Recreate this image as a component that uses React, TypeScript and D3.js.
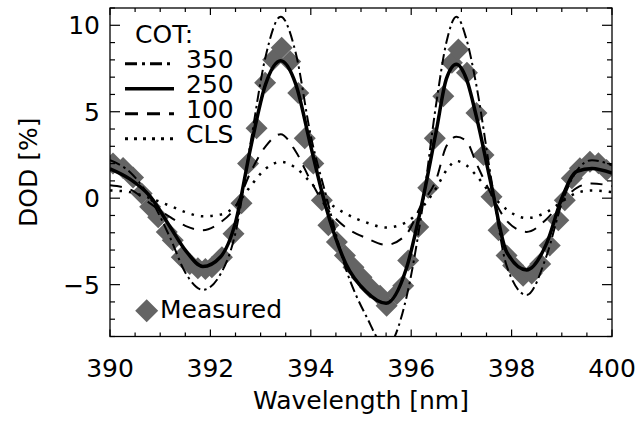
import React from "react";
import * as d3 from "d3";

// model wavelengths (nm) shared by the COT curves
const modelWl = [
  390.0, 390.4, 390.8, 391.2, 391.5, 391.85, 392.2, 392.5, 392.8, 393.1, 393.4,
  393.7, 394.0, 394.3, 394.7, 395.1, 395.5, 395.9, 396.2, 396.5, 396.7, 396.9,
  397.1, 397.3, 397.6, 397.9, 398.3, 398.7, 399.0, 399.3, 399.6, 400.0,
];
const cot350 = [
  2.2, 1.5, 0.0, -2.3, -4.3, -5.3, -4.4, -2.0, 3.2, 8.2, 10.5, 8.4, 3.6, 0.2,
  -4.1, -6.8, -8.6, -5.8, -1.0, 5.5, 9.0, 10.5, 9.2, 6.5, 1.0, -3.9, -5.6, -3.3,
  -0.3, 1.6, 2.2, 1.9,
];
const cot250 = [
  1.7, 1.1, 0.1, -1.67, -3.0, -3.95, -3.4, -1.4, 2.9, 6.6, 7.95, 6.6, 3.0, -0.5,
  -3.8, -5.4, -6.08, -4.1, -0.5, 3.9, 6.9, 7.75, 6.9, 4.7, 0.7, -3.1, -4.15,
  -2.6, 0.0, 1.55, 1.72, 1.45,
];
const cot100 = [
  0.75, 0.5, -0.3, -1.1, -1.6, -1.85, -1.4, -0.5, 1.5, 3.0, 3.7, 2.7, 1.0, -0.5,
  -1.7, -2.3, -2.7, -2.1, -0.4, 1.1, 3.0, 3.55, 3.3, 2.0, 0.2, -1.3, -1.95, -1.2,
  -0.2, 0.6, 0.85, 0.7,
];
const cotCls = [
  0.45, 0.35, 0.0, -0.45, -0.8, -1.05, -0.95, -0.45, 0.7, 1.7, 2.1, 1.75, 0.9,
  -0.1, -0.9, -1.4, -1.7, -1.4, -0.6, 0.6, 1.6, 2.15, 1.9, 1.3, 0.2, -0.65,
  -1.15, -0.8, -0.2, 0.3, 0.45, 0.35,
];

// measured DOD
const measWl = [
  390.06, 390.26, 390.46, 390.63, 390.8, 390.96, 391.13, 391.25, 391.43, 391.59,
  391.75, 391.9, 392.03, 392.23, 392.46, 392.62, 392.75, 392.92, 393.09, 393.25,
  393.42, 393.59, 393.75, 393.88, 394.05, 394.22, 394.35, 394.52, 394.68, 394.85,
  395.01, 395.18, 395.38, 395.51, 395.71, 395.84, 395.94, 396.14, 396.34, 396.47,
  396.64, 396.81, 396.94, 397.11, 397.3, 397.44, 397.6, 397.74, 397.9, 398.03,
  398.23, 398.4, 398.57, 398.76, 398.93, 399.06, 399.2, 399.36, 399.56, 399.73,
  399.89,
];
const measVal = [
  2.0, 1.75, 1.2, 0.27, -0.5, -1.1, -1.96, -2.44, -3.41, -3.8, -4.05, -4.1,
  -3.99, -3.41, -2.05, -0.3, 2.0, 4.05, 6.67, 8.0, 8.7, 7.9, 6.09, 3.47, 2.0,
  -0.12, -1.57, -2.54, -3.31, -3.99, -4.57, -5.16, -5.64, -6.22, -5.54, -5.06,
  -3.6, -1.67, 0.6, 3.47, 5.89, 7.83, 8.6, 7.25, 4.92, 2.5, 0.08, -1.86, -3.31,
  -3.9, -4.48, -4.36, -3.8, -2.73, -1.28, -0.12, 1.15, 1.73, 2.11, 2.02, 1.63,
];

const xTickLabels = [390, 392, 394, 396, 398, 400];
const yTickLabels = [-5, 0, 5, 10];
const legendLabels = ["350", "250", "100", "CLS"];

const W = 637;
const H = 422;
const FONT = "DejaVu Sans, sans-serif";

export default function App() {
  const x = d3.scaleLinear().domain([390, 400]).range([110, 612]);
  const y = d3.scaleLinear().domain([-8, 11]).range([336.5, 8]);

  const line = d3
    .line<number>()
    .x((_, i) => x(modelWl[i]))
    .y((d) => y(d))
    .curve(d3.curveMonotoneX);

  const series = [
    { vals: cot350, dash: "11,4,2.5,4", w: 2 },
    { vals: cot250, dash: null, w: 3.5 },
    { vals: cot100, dash: "12,9", w: 2 },
    { vals: cotCls, dash: "2.5,7", w: 2.5 },
  ];
  const legendDash = ["12,5,3,5", null, "13,9", "3,6"];

  const diamond = (cx: number, cy: number, r: number) =>
    `M${cx},${cy - r}L${cx + r},${cy}L${cx},${cy + r}L${cx - r},${cy}Z`;

  const [x0, x1] = x.range();
  const [y0, y1] = y.range();

  const xMinor = d3.range(390, 400.01, 0.5);
  const yMinor = d3.range(-8, 11.01, 1);

  return (
    <svg
      width={W}
      height={H}
      style={{ position: "absolute", left: 0, top: 0, background: "#fff" }}
      fontFamily={FONT}
    >
      <defs>
        <clipPath id="plotClip">
          <rect x={x0} y={y1} width={x1 - x0} height={y0 - y1} />
        </clipPath>
      </defs>

      {/* measured diamonds */}
      <g clipPath="url(#plotClip)">
        {measWl.map((wl, i) => (
          <path key={i} d={diamond(x(wl), y(measVal[i]), 11)} fill="#646464" />
        ))}
      </g>

      {/* model curves */}
      <g clipPath="url(#plotClip)" fill="none" stroke="#000">
        {series.map((s, i) => (
          <path
            key={i}
            d={line(s.vals) || ""}
            strokeWidth={s.w}
            strokeDasharray={s.dash || undefined}
            strokeLinejoin="round"
          />
        ))}
      </g>

      {/* frame */}
      <rect
        x={x0}
        y={y1}
        width={x1 - x0}
        height={y0 - y1}
        fill="none"
        stroke="#000"
        strokeWidth={1.3}
      />

      {/* x ticks, bottom and top */}
      {xMinor.map((v, i) => {
        const major = Math.abs(v % 2) < 1e-6;
        const len = major ? 7 : 4;
        return (
          <g key={"xt" + i} stroke="#000" strokeWidth={1.2}>
            <line x1={x(v)} x2={x(v)} y1={y0} y2={y0 - len} />
            <line x1={x(v)} x2={x(v)} y1={y1} y2={y1 + len} />
          </g>
        );
      })}
      {/* y ticks, left and right */}
      {yMinor.map((v, i) => {
        const major = Math.abs(v % 5) < 1e-6;
        const len = major ? 10 : 5;
        return (
          <g key={"yt" + i} stroke="#000" strokeWidth={1.2}>
            <line x1={x0} x2={x0 + len} y1={y(v)} y2={y(v)} />
            <line x1={x1} x2={x1 - len} y1={y(v)} y2={y(v)} />
          </g>
        );
      })}

      {/* tick labels */}
      {xTickLabels.map((v) => (
        <text key={"xl" + v} x={x(v)} y={377} fontSize={25} textAnchor="middle">
          {v}
        </text>
      ))}
      {yTickLabels.map((v) => (
        <text key={"yl" + v} x={100} y={y(v) + 9} fontSize={25} textAnchor="end">
          {v < 0 ? "\u2212" + Math.abs(v) : v}
        </text>
      ))}

      {/* axis titles */}
      <text x={(x0 + x1) / 2} y={409} fontSize={25} textAnchor="middle">
        Wavelength [nm]
      </text>
      <text
        transform={`translate(37,${(y0 + y1) / 2}) rotate(-90)`}
        fontSize={25}
        textAnchor="middle"
      >
        DOD [%]
      </text>

      {/* legend */}
      <text x={135} y={42.5} fontSize={25}>
        COT:
      </text>
      {legendLabels.map((lab, i) => {
        const by = 68.3 + i * 25;
        return (
          <g key={"lg" + i}>
            <line
              x1={125}
              x2={174}
              y1={by - 4.5}
              y2={by - 4.5}
              stroke="#000"
              strokeWidth={i === 1 ? 3.5 : 3}
              strokeDasharray={legendDash[i] || undefined}
            />
            <text x={186} y={by} fontSize={25}>
              {lab}
            </text>
          </g>
        );
      })}
      <path d={diamond(146.7, 310.7, 11.5)} fill="#646464" />
      <text x={160} y={317.5} fontSize={25}>
        Measured
      </text>
    </svg>
  );
}
